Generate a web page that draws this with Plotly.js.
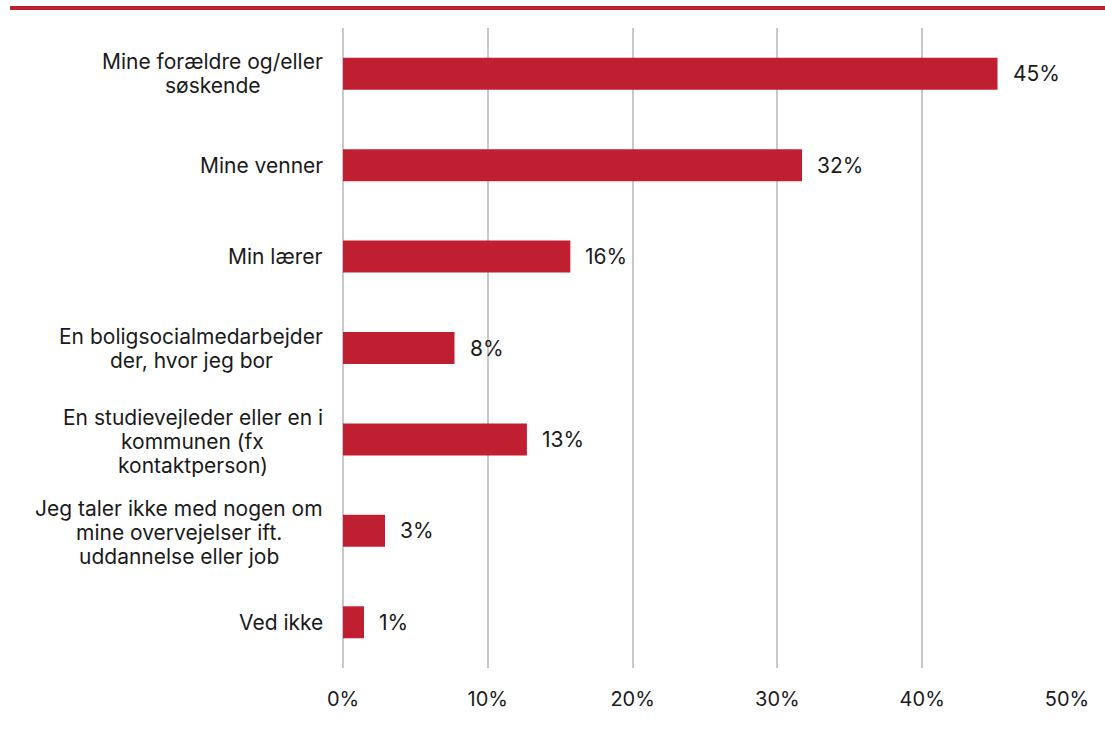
<!DOCTYPE html>
<html>
<head>
<meta charset="utf-8">
<script src="https://cdn.plot.ly/plotly-3.0.1.min.js"></script>
<style>
html,body{margin:0;padding:0;background:#fff;}
#chart{width:1105px;height:731px;}
</style>
</head>
<body>
<div id="chart"></div>
<script>
const categories = [
  "Mine forældre og/eller<br>søskende",
  "Mine venner",
  "Min lærer",
  "En boligsocialmedarbejder<br>der, hvor jeg bor",
  "En studievejleder eller en i<br>kommunen (fx<br>kontaktperson)",
  "Jeg taler ikke med nogen om<br>mine overvejelser ift.<br>uddannelse eller job",
  "Ved ikke"
];
const values = [45.2, 31.7, 15.7, 7.7, 12.7, 2.9, 1.45];
const valueLabels = ["45%", "32%", "16%", "8%", "13%", "3%", "1%"];
const tickVals = [0, 10, 20, 30, 40, 50];
const tickText = ["0%", "10%", "20%", "30%", "40%", "50%"];

const RED = "#C01F32";
const FONT = "Inter, 'Noto Sans', sans-serif";
const FS = 21;
const LINE_PITCH = 24;
const LABEL_GAP = 20;

const ctx = document.createElement("canvas").getContext("2d");
ctx.font = FS + "px Inter";
function textW(s) { return ctx.measureText(s).width; }

const trace = {
  type: "bar",
  orientation: "h",
  x: values,
  y: categories,
  marker: {color: RED},
  hoverinfo: "none"
};

const annotations = [];
categories.forEach((c, i) => {
  const lines = c.split("<br>");
  const n = lines.length;
  const maxW = Math.max(...lines.map(textW));
  lines.forEach((ln, j) => {
    annotations.push({
      xref: "paper", yref: "y", x: 0, y: c,
      xanchor: "center", yanchor: "middle",
      xshift: -(LABEL_GAP + maxW / 2),
      yshift: ((n - 1) / 2 - j) * LINE_PITCH - (n > 2 ? 2 : 0),
      text: ln, showarrow: false,
      font: {family: FONT, size: FS, color: "#1a1a1a"}
    });
  });
  annotations.push({
    xref: "x", yref: "y", x: values[i], y: c,
    xanchor: "left", yanchor: "middle",
    xshift: 13,
    text: valueLabels[i], showarrow: false,
    font: {family: FONT, size: FS, color: "#1a1a1a"}
  });
});

const layout = {
  width: 1105, height: 731,
  margin: {l: 343, r: 38, t: 28, b: 63},
  paper_bgcolor: "#fff", plot_bgcolor: "#fff",
  bargap: 0.65,
  showlegend: false,
  xaxis: {
    range: [0, 50], tickvals: tickVals, ticktext: tickText,
    showgrid: true, gridcolor: "#c8c8c8", gridwidth: 2,
    zeroline: true, zerolinecolor: "#c8c8c8", zerolinewidth: 2,
    showline: false, ticks: "",
    tickfont: {family: FONT, size: 20, color: "#1a1a1a"},
    ticklabelstandoff: 17,
    fixedrange: true
  },
  yaxis: {
    type: "category", autorange: "reversed",
    showticklabels: false, showgrid: false, zeroline: false, showline: false,
    fixedrange: true
  },
  annotations: annotations,
  shapes: [{
    type: "line", xref: "paper", yref: "paper",
    x0: -333/724, x1: 1105/724 - 343/724, y0: 1 + 20/640, y1: 1 + 20/640,
    line: {color: RED, width: 4}
  }]
};

Plotly.newPlot("chart", [trace], layout, {displayModeBar: false, staticPlot: true});
</script>
</body>
</html>
